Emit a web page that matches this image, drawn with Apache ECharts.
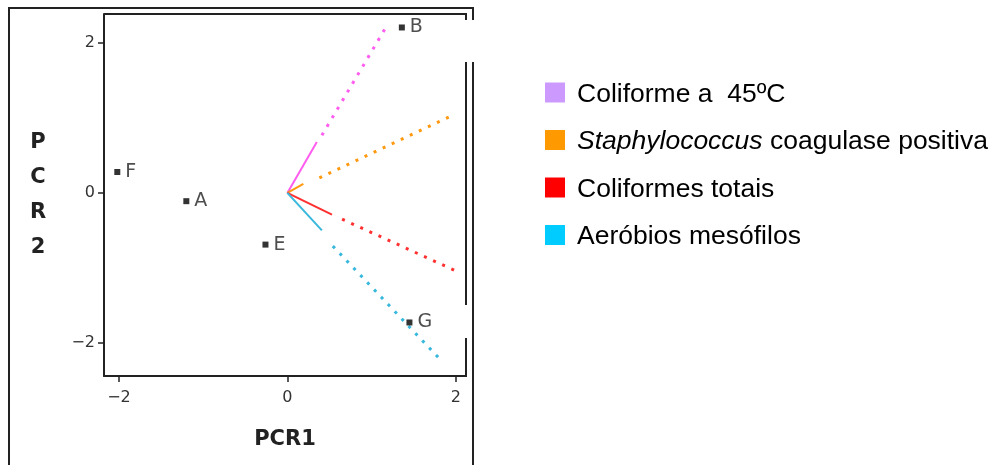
<!DOCTYPE html>
<html>
<head>
<meta charset="utf-8">
<script src="https://cdn.jsdelivr.net/npm/echarts@6/dist/echarts.min.js"></script>
<style>html,body{margin:0;padding:0;background:#fff}#c{width:995px;height:465px}</style>
</head>
<body>
<div id="c"></div>
<script>
// ---- data ----
const pointNames = ['F', 'A', 'E', 'B', 'G'];
const pointX = [-2.02, -1.20, -0.26, 1.36, 1.45];
const pointY = [0.28, -0.11, -0.69, 2.21, -1.73];

const vectorNames = ['Coliforme a  45ºC', 'Staphylococcus coagulase positiva', 'Coliformes totais', 'Aeróbios mesófilos'];
const solidEndX = [0.35, 0.19, 0.53, 0.41];
const solidEndY = [0.68, 0.12, -0.29, -0.50];
const dotStartX = [0.41, 0.38, 0.65, 0.54];
const dotStartY = [0.77, 0.20, -0.35, -0.71];
const dotEndX = [1.18, 1.93, 2.00, 1.83];
const dotEndY = [2.23, 1.02, -1.04, -2.24];

const xTicks = [-2, 0, 2];
const yTicks = [-2, 0, 2];
const xTitle = 'PCR1';
const yTitle = 'P\nC\nR\n2';

// ---- styles ----
const lineColors = ['#ff5cf0', '#ff9a10', '#ff3030', '#38b8dc'];
const legendColors = ['#cc99ff', '#ff9900', '#ff0000', '#00ccff'];

const series = [];
vectorNames.forEach((n, i) => {
  series.push({
    type: 'line', name: n, symbol: 'none', silent: true,
    data: [[0, 0], [solidEndX[i], solidEndY[i]]],
    lineStyle: { color: lineColors[i], width: 2 },
    itemStyle: { color: legendColors[i] }
  });
  series.push({
    type: 'line', name: n, symbol: 'none', silent: true,
    data: [[dotStartX[i], dotStartY[i]], [dotEndX[i], dotEndY[i]]],
    lineStyle: { color: lineColors[i], width: 3, type: [3, 7], cap: 'butt' },
    itemStyle: { color: legendColors[i] }
  });
});
series.push({
  type: 'scatter', name: 'pts', symbol: 'rect', symbolSize: 6,
  itemStyle: { color: '#000' },
  data: pointNames.map((n, i) => ({ name: n, value: [pointX[i], pointY[i]] })),
  label: {
    show: true, position: 'right', distance: 5, formatter: '{b}',
    fontFamily: 'DejaVu Sans', fontSize: 19, color: '#222'
  },
  z: 5
});

const axisCommon = {
  type: 'value',
  splitLine: { show: false },
  axisLine: { show: true, onZero: false, lineStyle: { color: '#222', width: 2 } },
  axisTick: { show: true, length: 6, lineStyle: { color: '#222', width: 1.5 } },
  axisLabel: { fontFamily: 'DejaVu Sans', fontSize: 16, color: '#333' },
  nameTextStyle: { fontFamily: 'DejaVu Sans', fontWeight: 'bold', fontSize: 21, color: '#222' }
};

const option = {
  backgroundColor: '#fff',
  animation: false,
  grid: { left: 104, top: 14, width: 362, height: 362 },
  xAxis: Object.assign({}, axisCommon, {
    min: -2.178, max: 2.122,
    axisTick: Object.assign({}, axisCommon.axisTick, { customValues: xTicks }),
    axisLabel: Object.assign({}, axisCommon.axisLabel, { customValues: xTicks, margin: 14, formatter: v => String(v).replace('-', '\u2212') }),
    name: xTitle, nameLocation: 'middle', nameGap: 53
  }),
  yAxis: Object.assign({}, axisCommon, {
    min: -2.445, max: 2.39,
    axisTick: Object.assign({}, axisCommon.axisTick, { customValues: yTicks }),
    axisLabel: Object.assign({}, axisCommon.axisLabel, { customValues: yTicks, margin: 9, formatter: v => String(v).replace('-', '\u2212') }),
    name: yTitle, nameLocation: 'middle', nameRotate: 0, nameGap: 66,
    nameTextStyle: Object.assign({}, axisCommon.nameTextStyle, { lineHeight: 35, align: 'center' })
  }),
  legend: {
    orient: 'vertical', left: 540, top: 76,
    itemWidth: 20, itemHeight: 20, itemGap: 20.5,
    icon: 'rect', selectedMode: false,
    data: vectorNames.map((n, i) => ({ name: n, icon: 'rect', itemStyle: { color: legendColors[i] } })),
    textStyle: {
      fontFamily: 'Liberation Sans', fontSize: 26.5, color: '#000', padding: [4, 0, 0, 7],
      rich: { it: { fontFamily: 'Liberation Sans', fontSize: 26.5, fontStyle: 'italic', color: '#000' } }
    },
    formatter: name => name.startsWith('Staphylococcus') ? '{it|Staphylococcus}' + name.slice('Staphylococcus'.length) : name
  },
  graphic: [
    { type: 'polyline', shape: { points: [[9, 466], [9, 8], [473, 8], [473, 20]] }, style: { stroke: '#222', lineWidth: 2, fill: null } },
    { type: 'line', shape: { x1: 473, y1: 62, x2: 473, y2: 466 }, style: { stroke: '#222', lineWidth: 2 } },
    { type: 'line', shape: { x1: 104, y1: 14, x2: 467, y2: 14 }, style: { stroke: '#222', lineWidth: 2 } },
    { type: 'line', shape: { x1: 466, y1: 14, x2: 466, y2: 20 }, style: { stroke: '#222', lineWidth: 2 } },
    { type: 'line', shape: { x1: 466, y1: 62, x2: 466, y2: 305 }, style: { stroke: '#222', lineWidth: 2 } },
    { type: 'line', shape: { x1: 466, y1: 338, x2: 466, y2: 377 }, style: { stroke: '#222', lineWidth: 2 } }
  ],
  series: series
};

const chart = echarts.init(document.getElementById('c'), null, { renderer: 'canvas' });
chart.setOption(option);
</script>
</body>
</html>
